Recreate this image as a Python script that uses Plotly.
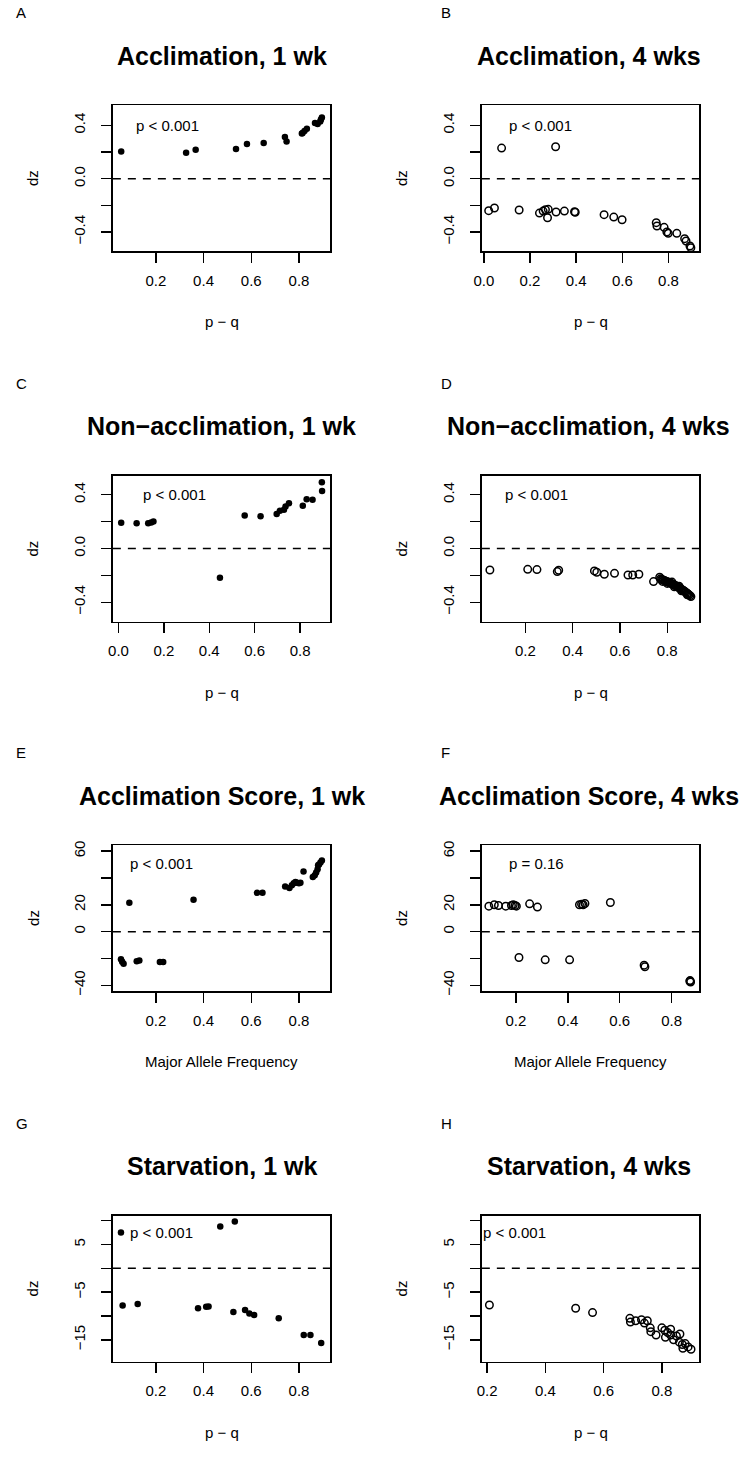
import plotly.graph_objects as go

W, H = 743, 1464

# ---------------- data ----------------
A_x = [0.055, 0.327, 0.367, 0.536, 0.582, 0.652, 0.741, 0.748, 0.812, 0.815, 0.823, 0.833,
       0.867, 0.878, 0.889, 0.892, 0.896]
A_y = [0.205, 0.195, 0.218, 0.223, 0.260, 0.268, 0.313, 0.280, 0.340, 0.343, 0.358, 0.375,
       0.418, 0.410, 0.430, 0.445, 0.460]

B_x = [0.021, 0.046, 0.077, 0.153, 0.241, 0.257, 0.267, 0.279, 0.276, 0.311, 0.313, 0.349,
       0.393, 0.396, 0.521, 0.563, 0.599, 0.747, 0.750, 0.781, 0.793, 0.799, 0.836, 0.870,
       0.876, 0.893, 0.897]
B_y = [-0.240, -0.220, 0.230, -0.235, -0.258, -0.243, -0.233, -0.230, -0.293, 0.240, -0.250,
       -0.243, -0.248, -0.252, -0.270, -0.288, -0.308, -0.330, -0.355, -0.365, -0.400, -0.410,
       -0.410, -0.450, -0.468, -0.505, -0.518]

C_x = [0.012, 0.080, 0.131, 0.144, 0.154, 0.447, 0.556, 0.626, 0.697, 0.711, 0.729, 0.736,
       0.751, 0.812, 0.829, 0.855, 0.896, 0.897]
C_y = [0.192, 0.187, 0.187, 0.194, 0.200, -0.217, 0.246, 0.239, 0.256, 0.280, 0.288, 0.312,
       0.337, 0.317, 0.367, 0.362, 0.492, 0.428]

D_x = [0.050, 0.210, 0.249, 0.335, 0.341, 0.492, 0.502, 0.534, 0.577, 0.634, 0.654, 0.680,
       0.742, 0.768, 0.772, 0.776, 0.780, 0.785, 0.790, 0.794, 0.798, 0.803, 0.807, 0.811,
       0.815, 0.820, 0.824, 0.828, 0.832, 0.837, 0.841, 0.845, 0.850, 0.854, 0.858, 0.862,
       0.867, 0.871, 0.875, 0.879, 0.884, 0.888, 0.892, 0.896, 0.900, 0.780, 0.800, 0.820,
       0.830, 0.850, 0.860, 0.885]
D_y = [-0.160, -0.155, -0.157, -0.172, -0.162, -0.167, -0.177, -0.192, -0.185, -0.197, -0.197,
       -0.192, -0.246, -0.214, -0.225, -0.230, -0.232, -0.236, -0.240, -0.243, -0.247, -0.250,
       -0.252, -0.256, -0.259, -0.262, -0.266, -0.270, -0.274, -0.278, -0.283, -0.287, -0.292,
       -0.296, -0.301, -0.306, -0.311, -0.316, -0.321, -0.327, -0.333, -0.339, -0.345, -0.351,
       -0.358, -0.245, -0.260, -0.250, -0.285, -0.280, -0.315, -0.345]

E_x = [0.054, 0.059, 0.065, 0.089, 0.120, 0.131, 0.217, 0.231, 0.358, 0.624, 0.647, 0.742,
       0.760, 0.770, 0.778, 0.785, 0.792, 0.800, 0.806, 0.819, 0.858, 0.866, 0.872, 0.878,
       0.884, 0.890, 0.896, 0.880]
E_y = [-20.5, -22.5, -24.0, 21.5, -22.0, -21.5, -22.7, -22.7, 23.7, 28.9, 28.9, 33.6,
       32.5, 34.5, 36.0, 37.0, 36.5, 36.0, 36.5, 44.9, 40.7, 42.0, 44.0, 46.5, 50.0,
       51.5, 53.0, 49.5]

F_x = [0.096, 0.117, 0.133, 0.161, 0.183, 0.190, 0.197, 0.202, 0.253, 0.283, 0.445, 0.453,
       0.459, 0.466, 0.564, 0.212, 0.313, 0.407, 0.694, 0.697, 0.871, 0.873, 0.870]
F_y = [19.0, 20.0, 19.5, 19.0, 19.5, 20.0, 19.5, 19.0, 20.7, 18.3, 20.0, 20.5, 20.0, 21.0,
       21.7, -19.3, -21.0, -21.0, -25.0, -26.2, -36.5, -37.5, -37.0]

G_x = [0.054, 0.061, 0.124, 0.470, 0.531, 0.377, 0.411, 0.421, 0.525, 0.574, 0.592, 0.612,
       0.715, 0.820, 0.848, 0.893]
G_y = [7.5, -7.8, -7.5, 8.75, 9.8, -8.4, -8.1, -8.0, -9.2, -8.75, -9.5, -9.8,
       -10.5, -14.0, -14.0, -15.7]

H_x = [0.208, 0.504, 0.562, 0.690, 0.692, 0.710, 0.730, 0.740, 0.750, 0.760, 0.762, 0.800,
       0.810, 0.812, 0.820, 0.830, 0.840, 0.850, 0.860, 0.862, 0.870, 0.872, 0.880, 0.890,
       0.900, 0.830, 0.780]
H_y = [-7.7, -8.4, -9.3, -10.5, -11.3, -11.0, -10.8, -11.5, -11.0, -12.5, -13.3, -12.5,
       -13.0, -14.5, -13.5, -14.0, -15.0, -14.2, -15.5, -13.8, -16.0, -16.8, -15.8, -16.5,
       -17.0, -12.8, -14.0]

TITLES = ["Acclimation, 1 wk", "Acclimation, 4 wks",
          "Non\u2212acclimation, 1 wk", "Non\u2212acclimation, 4 wks",
          "Acclimation Score, 1 wk", "Acclimation Score, 4 wks",
          "Starvation, 1 wk", "Starvation, 4 wks"]
LETTERS = ["A", "B", "C", "D", "E", "F", "G", "H"]
PTEXT = ["p < 0.001", "p < 0.001", "p < 0.001", "p < 0.001",
         "p < 0.001", "p = 0.16", "p < 0.001", "p < 0.001"]
PTEXT_X = [0.247, 0.246, 0.246, 0.249, 0.224, 0.281, 0.225, 0.295]
PTEXT_Y = [0.4, 0.4, 0.4, 0.4, 51, 51, 7.6, 7.6]
XLABELS = ["p \u2212 q", "p \u2212 q", "p \u2212 q", "p \u2212 q",
           "Major Allele Frequency", "Major Allele Frequency", "p \u2212 q", "p \u2212 q"]
X_RANGES = [[0.020, 0.932], [-0.0086, 0.933], [-0.0247, 0.934], [0.016, 0.935],
            [0.020, 0.932], [0.069, 0.906], [0.020, 0.932], [0.182, 0.928]]
X_TICKS = [[0.2, 0.4, 0.6, 0.8], [0.0, 0.2, 0.4, 0.6, 0.8], [0.0, 0.2, 0.4, 0.6, 0.8],
           [0.2, 0.4, 0.6, 0.8], [0.2, 0.4, 0.6, 0.8], [0.2, 0.4, 0.6, 0.8],
           [0.2, 0.4, 0.6, 0.8], [0.2, 0.4, 0.6, 0.8]]
ROW_Y_RANGES = [[-0.545, 0.551], [-0.545, 0.541], [-44.4, 64.4], [-19.6, 11.04]]
ROW_Y_TICKS = [[-0.4, -0.2, 0.0, 0.2, 0.4], [-0.4, -0.2, 0.0, 0.2, 0.4],
               [-40, -20, 0, 20, 40, 60], [-15, -10, -5, 0, 5, 10]]
ROW_Y_TEXT = [["\u22120.4", "", "0.0", "", "0.4"], ["\u22120.4", "", "0.0", "", "0.4"],
              ["\u221240", "", "0", "20", "", "60"], ["\u221215", "", "\u22125", "", "5", ""]]

XS = [A_x, B_x, C_x, D_x, E_x, F_x, G_x, H_x]
YS = [A_y, B_y, C_y, D_y, E_y, F_y, G_y, H_y]
FILLED = [True, False, True, False, True, False, True, False]

# ---------------- layout geometry (pixels) ----------------
COL_X = [(106, 326), (479, 698.7)]
COL_TITLE_CX = [216, 587]
COL_LETTER_X = [6, 436]
ROW_TOP = [101, 474, 846, 1219]
BOX_H = 147
FONT = "Liberation Sans, Arial, Helvetica, sans-serif"


def px(xp):
    return xp / W


def py(yp):
    return 1 - yp / H


fig = go.Figure()
annotations = []
shapes = []
layout_axes = {}

for i in range(8):
    r, c = divmod(i, 2)
    n = i + 1
    xa = "x" if n == 1 else f"x{n}"
    ya = "y" if n == 1 else f"y{n}"
    x0, x1 = COL_X[c]
    top = ROW_TOP[r]
    bot = top + BOX_H

    if FILLED[i]:
        marker = dict(symbol="circle", size=6.5, color="black", line=dict(width=0))
    else:
        marker = dict(symbol="circle-open", size=7.5, color="black",
                      line=dict(width=1.5, color="black"))
    fig.add_trace(go.Scatter(x=XS[i], y=YS[i], mode="markers", marker=marker,
                             xaxis=xa, yaxis=ya, showlegend=False, cliponaxis=True,
                             hoverinfo="skip"))

    axis_common = dict(showline=True, linecolor="black", linewidth=1.5, mirror=True,
                       ticks="outside", ticklen=10, tickwidth=1.5, tickcolor="black",
                       showgrid=False, zeroline=False, fixedrange=True,
                       tickfont=dict(family=FONT, size=15, color="black"))
    xkey = "xaxis" if n == 1 else f"xaxis{n}"
    ykey = "yaxis" if n == 1 else f"yaxis{n}"
    layout_axes[xkey] = dict(axis_common, domain=[px(x0), px(x1)], anchor=ya,
                             range=X_RANGES[i], tickmode="array", tickvals=X_TICKS[i],
                             ticktext=[f"{v:.1f}" for v in X_TICKS[i]],
                             ticklabelstandoff=5)
    layout_axes[ykey] = dict(axis_common, domain=[py(bot), py(top)], anchor=xa,
                             range=ROW_Y_RANGES[r], tickmode="array", tickvals=ROW_Y_TICKS[r],
                             ticktext=ROW_Y_TEXT[r], tickangle=-90, ticklabelstandoff=10)

    # dashed zero line
    shapes.append(dict(type="line", xref=f"{xa} domain", x0=0, x1=1, yref=ya, y0=0, y1=0,
                       line=dict(color="black", width=1.5, dash="8px,7px")))

    cx = (x0 + x1) / 2
    annotations.append(dict(text=f"<b>{TITLES[i]}</b>", x=px(COL_TITLE_CX[c]), y=py(top - 50),
                            xref="paper", yref="paper", showarrow=False, xanchor="center",
                            yanchor="middle", font=dict(family=FONT, size=25, color="black")))
    annotations.append(dict(text=LETTERS[i], x=px(COL_LETTER_X[c]), y=py(top - 93),
                            xref="paper", yref="paper", showarrow=False, xanchor="left",
                            yanchor="middle", font=dict(family=FONT, size=15, color="black")))
    annotations.append(dict(text=PTEXT[i], x=PTEXT_X[i], y=PTEXT_Y[i], xref=xa, yref=ya,
                            showarrow=False, xanchor="center", yanchor="middle",
                            font=dict(family=FONT, size=15, color="black")))
    annotations.append(dict(text=XLABELS[i], x=px(cx), y=py(bot + 71), xref="paper",
                            yref="paper", showarrow=False, xanchor="center", yanchor="middle",
                            font=dict(family=FONT, size=15, color="black")))
    annotations.append(dict(text="dz", x=px(x0 - 81), y=py((top + bot) / 2), xref="paper",
                            yref="paper", showarrow=False, xanchor="center", yanchor="middle",
                            textangle=-90, font=dict(family=FONT, size=15, color="black")))

fig.update_layout(width=W, height=H, margin=dict(l=0, r=0, t=0, b=0),
                  paper_bgcolor="white", plot_bgcolor="white", hovermode=False,
                  annotations=annotations, shapes=shapes, **layout_axes)

# remove the default page margin so the figure sits at the window origin
fig.write_html("out.html",
               config={"displayModeBar": False, "staticPlot": True},
               post_script="document.body.style.margin='0';"
                           "document.body.style.overflow='hidden';")
